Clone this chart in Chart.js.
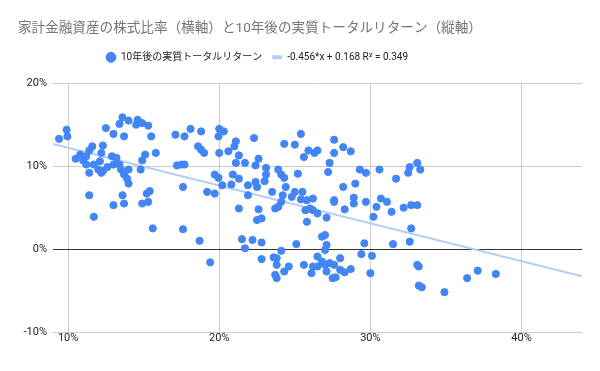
<!DOCTYPE html>
<html>
<head>
<meta charset="utf-8">
<script src="https://cdn.jsdelivr.net/npm/chart.js@4.4.1/dist/chart.umd.min.js"></script>
<style>
  html, body { margin: 0; padding: 0; background: #fff; }
  #wrap { width: 600px; height: 371px; }
</style>
</head>
<body>
<div id="wrap"><canvas id="scatterChart"></canvas></div>
<script>
// 株式比率 (%), 10年後の実質トータルリターン (%)
var stockShare = [
  9.4, 9.9, 9.95, 12.5, 13.0, 13.4, 13.6, 14.0, 14.6, 14.5, 14.9, 15.3, 13.7, 15.5, 15.8, 15.1, 14.9, 14.8, 14.0, 13.7,
  13.9, 14.0, 11.6, 12.3, 12.2, 11.4, 10.5, 10.8, 11.2, 11.2, 11.4, 11.7, 12.1, 12.0, 12.3, 12.2, 12.9, 13.2, 13.0, 13.4,
  13.5, 11.4, 11.7, 13.0, 13.6, 13.7, 14.9, 15.3, 15.2, 15.4, 15.6, 11.0, 12.6, 17.1, 17.7, 18.1, 18.8, 18.6, 18.8, 19.0,
  20.0, 20.3, 19.95, 21.1, 22.3, 21.0, 20.0, 20.6, 21.3, 21.1, 21.7, 22.6, 22.4, 17.2, 17.5, 17.7, 17.6, 19.2, 19.7, 19.7,
  19.95, 20.2, 20.8, 20.9, 21.3, 21.9, 22.4, 22.5, 21.9, 17.6, 18.7, 19.4, 21.3, 22.6, 22.5, 22.8, 21.5, 22.2, 22.8, 21.7,
  22.8, 23.1, 23.1, 23.0, 23.9, 24.1, 24.3, 24.4, 23.5, 25.0, 25.5, 24.2, 24.8, 26.2, 27.6, 28.9, 30.7, 25.8, 25.4, 24.3,
  25.0, 25.9, 26.5, 25.6, 26.3, 27.6, 28.2, 28.7, 27.6, 27.3, 27.2, 25.2, 29.3, 29.7, 30.6, 28.2, 29.0, 31.7, 23.9, 24.1,
  23.7, 25.7, 26.2, 26.0, 26.5, 25.8, 27.1, 27.6, 28.3, 28.9, 29.7, 30.2, 30.4, 26.8, 27.0, 27.1, 27.0, 25.1, 24.1, 23.6,
  23.8, 23.8, 23.7, 23.8, 24.3, 24.6, 25.6, 26.2, 26.1, 26.5, 26.5, 26.8, 27.0, 27.1, 27.3, 27.6, 28.0, 28.0, 28.3, 28.7,
  27.5, 27.7, 29.6, 29.4, 30.1, 30.0, 25.4, 31.1, 31.4, 32.2, 32.7, 33.1, 32.7, 31.5, 32.6, 33.1, 33.2, 33.2, 33.4, 34.9,
  36.4, 37.1, 38.3, 32.6, 32.5, 33.1, 33.3
];
var realReturn = [
  13.3, 14.4, 13.6, 14.6, 13.9, 15.1, 15.9, 15.5, 15.6, 15.0, 15.2, 14.9, 13.6, 13.6, 11.6, 11.4, 10.7, 9.6, 9.6, 9.0,
  8.5, 7.9, 12.4, 12.5, 11.6, 11.9, 10.9, 11.4, 11.2, 10.2, 9.2, 10.2, 10.6, 9.6, 9.4, 9.2, 11.2, 11.0, 10.2, 10.2,
  9.6, 6.5, 3.9, 5.3, 6.5, 5.5, 5.5, 5.7, 6.7, 7.0, 2.5, 10.7, 9.9, 13.8, 13.6, 14.5, 14.2, 12.4, 12.0, 11.6,
  14.5, 14.2, 13.6, 13.0, 13.4, 12.4, 11.6, 11.8, 11.3, 10.4, 10.4, 10.9, 10.1, 10.1, 10.2, 10.2, 7.5, 6.9, 6.7, 9.0,
  8.6, 7.7, 7.8, 9.0, 8.5, 7.7, 8.1, 7.5, 6.5, 2.4, 1.0, -1.6, 4.9, 4.8, 3.5, 3.7, 1.2, 1.1, 0.8, 0.1,
  -1.2, 9.8, 9.0, 8.2, 9.6, 9.0, 8.6, 7.5, 6.9, 6.9, 6.9, 6.5, 6.3, 6.1, 5.9, 6.2, 6.1, 5.9, 13.9, 12.7,
  12.6, 11.9, 11.9, 11.1, 11.6, 13.2, 12.3, 11.8, 11.6, 10.4, 9.3, 9.1, 9.6, 9.2, 9.6, 7.5, 7.9, 8.5, 5.1, 5.7,
  4.9, 4.7, 4.7, 4.9, 4.3, 3.3, 3.8, 5.7, 4.8, 5.5, 5.7, 3.9, 5.1, 1.5, 1.7, 0.5, -0.1, 0.6, -0.2, -1.0,
  -1.1, -1.9, -3.1, -3.5, -2.7, -2.1, -1.9, -2.1, -2.9, -0.9, -2.1, -1.5, -1.9, -2.7, -1.7, -1.9, -1.1, -2.5, -2.8, -2.4,
  -3.5, -3.4, 0.7, -0.6, -0.8, -2.9, 6.0, 5.7, 4.5, 5.0, 5.3, 5.3, 2.5, 0.6, 0.9, -1.9, -2.1, -4.4, -4.6, -5.2,
  -3.5, -2.6, -3.0, 9.9, 9.2, 10.4, 9.6
];

var xTicks = [10, 20, 30, 40];
var yTicks = [-10, 0, 10, 20];
var xMin = 9, xMax = 44;

// 近似直線 y = -0.456x + 0.168
var slope = -0.456, intercept = 0.168, r2 = 0.349;
function trend(x) { return (slope * x / 100 + intercept) * 100; }

var points = stockShare.map(function (x, i) { return { x: x, y: realReturn[i] }; });
var trendLine = [{ x: xMin, y: trend(xMin) }, { x: xMax, y: trend(xMax) }];

Chart.defaults.font.family = "Roboto, 'Noto Sans CJK JP', sans-serif";

// 凡例: 少し左へ寄せ、下に余白
var legendTweak = {
  id: 'legendTweak',
  beforeLayout: function (chart) {
    var lg = chart.legend;
    if (lg && !lg._patched) {
      var fit = lg.fit;
      lg.fit = function () { fit.call(this); this.height += 11; };
      lg._patched = true;
    }
  },
  afterLayout: function (chart) {
    chart.legend.left -= 43;
    chart.legend.right -= 43;
  }
};

var ctx = document.getElementById('scatterChart');
var scatterChart = new Chart(ctx, {
  type: 'scatter',
  data: {
    datasets: [
      {
        label: '10年後の実質トータルリターン',
        data: points,
        backgroundColor: '#4285f4',
        borderColor: '#4285f4',
        pointRadius: 3.6,
        pointStyle: 'circle',
        order: 0
      },
      {
        type: 'line',
        label: '-0.456*x + 0.168 R² = ' + r2,
        data: trendLine,
        borderColor: '#b3cdf7',
        backgroundColor: '#b3cdf7',
        borderWidth: 2,
        pointRadius: 0,
        pointStyle: 'line',
        fill: false,
        order: 1
      }
    ]
  },
  options: {
    responsive: true,
    maintainAspectRatio: false,
    animation: false,
    layout: { padding: { left: 18, right: 18, bottom: 19 } },
    plugins: {
      title: {
        display: true,
        align: 'start',
        text: '家計金融資産の株式比率（横軸）と10年後の実質トータルリターン（縦軸）',
        color: '#757575',
        font: { size: 13.6, weight: 'normal' },
        padding: { top: 20, bottom: 6 }
      },
      legend: {
        display: true,
        position: 'top',
        labels: {
          usePointStyle: true,
          boxHeight: 7,
          color: '#222',
          font: { size: 10 },
          padding: 10,
          generateLabels: function (chart) {
            var items = Chart.defaults.plugins.legend.labels.generateLabels(chart);
            items[1].lineWidth = 4;
            return items;
          }
        }
      },
      tooltip: { enabled: false }
    },
    scales: {
      x: {
        type: 'linear',
        min: xMin,
        max: xMax,
        afterBuildTicks: function (axis) {
          axis.ticks = xTicks.map(function (v) { return { value: v }; });
        },
        afterFit: function (scale) { scale.height = 20; },
        ticks: {
          color: '#222',
          font: { size: 11 },
          padding: 0,
          callback: function (v) { return v + '%'; }
        },
        grid: { color: '#cccccc', drawTicks: false },
        border: { display: false }
      },
      y: {
        min: -10,
        max: 20,
        afterBuildTicks: function (axis) {
          axis.ticks = yTicks.map(function (v) { return { value: v }; });
        },
        afterFit: function (scale) { scale.width = 35; },
        ticks: {
          color: '#222',
          font: { size: 11 },
          padding: 6,
          callback: function (v) { return v + '%'; }
        },
        grid: {
          drawTicks: false,
          color: function (c) { return c.tick && c.tick.value === 0 ? '#333333' : '#cccccc'; }
        },
        border: { display: false }
      }
    }
  },
  plugins: [legendTweak]
});
</script>
</body>
</html>
